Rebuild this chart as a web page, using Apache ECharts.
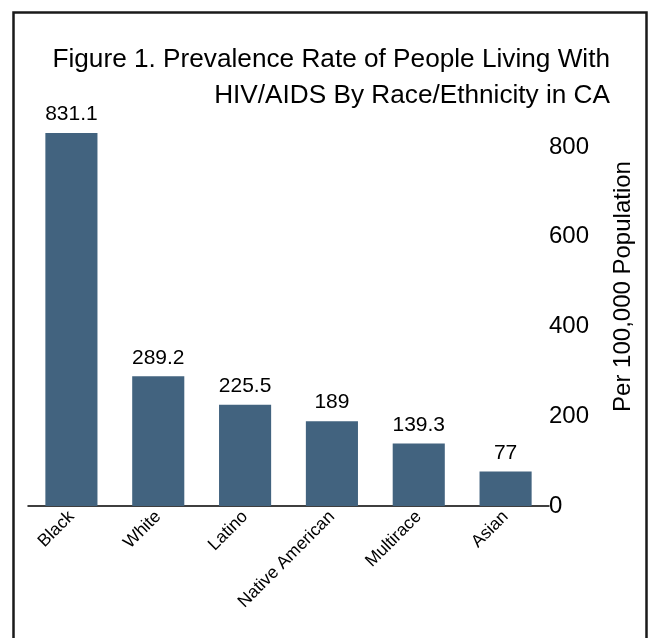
<!DOCTYPE html>
<html>
<head>
<meta charset="utf-8">
<script src="https://cdn.jsdelivr.net/npm/echarts@6/dist/echarts.min.js"></script>
<style>
  html, body { margin: 0; padding: 0; background: #ffffff; }
  #chart { width: 650px; height: 638px; }
</style>
</head>
<body>
<div id="chart"></div>
<script>
// Prevalence rate per 100,000 population, by race/ethnicity
const categories = ['Black', 'White', 'Latino', 'Native American', 'Multirace', 'Asian'];
const rates = [831.1, 289.2, 225.5, 189, 139.3, 77];
const yTicks = [0, 200, 400, 600, 800];

const FONT = '"Liberation Sans", Arial, Helvetica, sans-serif';
const BAR_COLOR = '#42637f';

const chart = echarts.init(document.getElementById('chart'), null, { renderer: 'canvas' });

chart.setOption({
  backgroundColor: '#ffffff',
  animation: false,
  title: {
    text: 'Figure 1. Prevalence Rate of People Living With\nHIV/AIDS By Race/Ethnicity in CA',
    left: 605,
    top: 37,
    textAlign: 'right',
    textStyle: {
      fontFamily: FONT,
      fontSize: 26.2,
      fontWeight: 'normal',
      color: '#000000',
      lineHeight: 36
    }
  },
  grid: {
    left: 28,
    right: 101,
    top: 147,
    bottom: 132,
    containLabel: false
  },
  xAxis: {
    type: 'category',
    data: categories,
    boundaryGap: true,
    axisLine: { show: true, lineStyle: { color: '#000000', width: 1.5 } },
    axisTick: { show: false },
    axisLabel: {
      rotate: 45,
      interval: 0,
      margin: 8,
      fontFamily: FONT,
      fontSize: 17.5,
      color: '#000000'
    }
  },
  yAxis: {
    type: 'value',
    position: 'right',
    min: yTicks[0],
    max: yTicks[yTicks.length - 1],
    interval: 200,
    name: 'Per 100,000 Population',
    nameLocation: 'middle',
    nameRotate: 90,
    nameGap: 62,
    nameTextStyle: {
      fontFamily: FONT,
      fontSize: 24,
      color: '#000000',
      padding: [0, 0, 0, 80]
    },
    axisLine: { show: false },
    axisTick: { show: false },
    splitLine: { show: false },
    axisLabel: {
      margin: 0,
      fontFamily: FONT,
      fontSize: 24,
      color: '#000000'
    }
  },
  series: [{
    type: 'bar',
    data: rates,
    barWidth: '60%',
    clip: false,
    itemStyle: { color: BAR_COLOR },
    label: {
      show: true,
      position: 'top',
      distance: 8,
      fontFamily: FONT,
      fontSize: 21,
      color: '#000000',
      formatter: p => String(p.value)
    }
  }],
  graphic: [{
    type: 'rect',
    shape: { x: 13.5, y: 12.5, width: 633, height: 700 },
    style: { fill: 'none', stroke: '#1a1a1a', lineWidth: 2.5 },
    silent: true,
    z: 100
  }]
});
</script>
</body>
</html>
